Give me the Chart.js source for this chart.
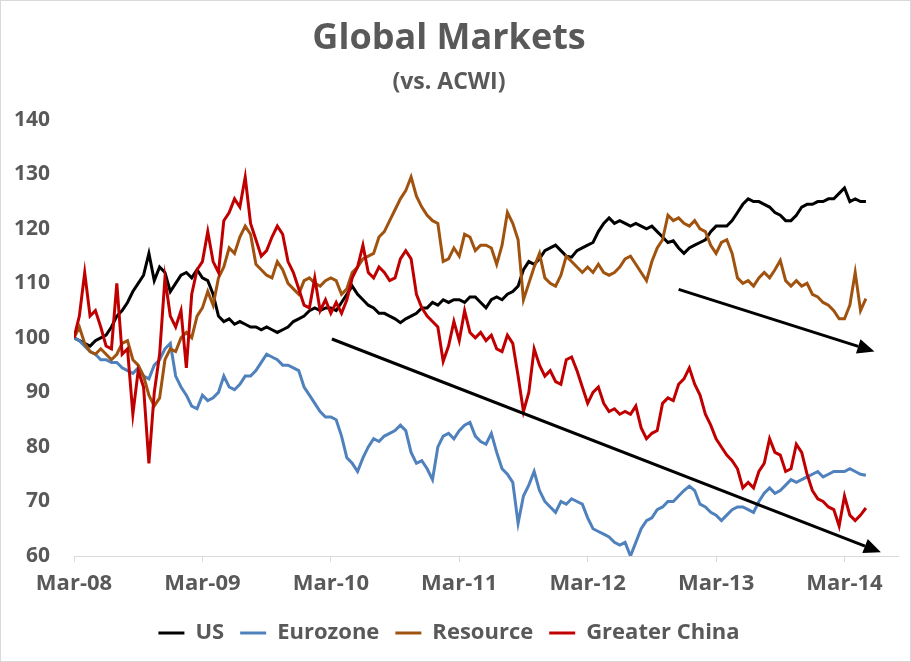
<!DOCTYPE html>
<html>
<head>
<meta charset="utf-8">
<script src="https://cdn.jsdelivr.net/npm/chart.js@4.4.1/dist/chart.umd.min.js"></script>
<style>
  html, body { margin: 0; padding: 0; background: #fff; }
  #wrap { width: 911px; height: 662px; position: relative; }
</style>
</head>
<body>
<div id="wrap"><canvas id="c"></canvas></div>
<script>
// ---- Data (half-month steps starting Mar-2008) ----
const startMonth = 0;      // months since Mar-2008
const stepMonths = 0.5;    // sampling step
const tickLabels = ['Mar-08', 'Mar-09', 'Mar-10', 'Mar-11', 'Mar-12', 'Mar-13', 'Mar-14'];
const seriesNames = ['US', 'Eurozone', 'Resource', 'Greater China'];

const us = [
  100, 99.5, 99, 98.5, 99.5, 100, 100.5, 102, 104, 105,
  106.5, 108.5, 110, 111.5, 115.5, 110.5, 113, 112, 108.5, 110,
  111.5, 112, 111, 112.5, 111, 110.5, 108, 104, 103, 103.5,
  102.5, 103, 102.5, 102, 102, 101.5, 102, 101.5, 101, 101.5,
  102, 103, 103.5, 104, 105, 105.5, 105, 105.5, 105.5, 105,
  106.5, 108, 109.5, 108, 107, 106, 105.5, 104.5, 104.5, 104,
  103.5, 102.8, 103.5, 104, 104.5, 105.5, 105.5, 106.5, 106, 107,
  106.5, 107, 107, 106.5, 107.5, 107.5, 106.5, 105.5, 107, 107.5,
  107, 108, 108.5, 109.5, 112.5, 114, 113.5, 114.5, 116, 116.5,
  117, 116, 115, 114.8, 116, 116.5, 117, 117.5, 119.5, 121,
  122, 121, 121.5, 121, 120.5, 121, 120.5, 120, 120.5, 119.5,
  118.5, 117.5, 117.8, 116.5, 115.5, 116.5, 117, 117.5, 118, 119.5,
  120.5, 120.5, 120.5, 121.5, 123, 124.5, 125.5, 125, 125, 124.5,
  124, 123, 122.5, 121.5, 121.5, 122.5, 124, 124.5, 124.5, 125,
  125, 125.5, 125.5, 126.5, 127.5, 125, 125.5, 125, 125
];
const eurozone = [
  100, 99.5, 98.5, 97.5, 97, 96, 96, 95.5, 95.5, 94.5,
  94, 93.5, 94.5, 93, 92.5, 95, 96, 98, 99, 93,
  91, 89.5, 87.5, 87, 89.5, 88.5, 89, 90, 93, 91,
  90.5, 91.5, 93, 93, 94, 95.5, 97, 96.5, 96, 95,
  95, 94.5, 94, 91, 89.5, 88, 86.5, 85.5, 85.5, 85,
  82, 78, 77, 75.5, 78, 80, 81.5, 81, 82, 82.5,
  83, 84, 83, 79, 77, 77.5, 76, 74, 80, 82,
  82.5, 81.5, 83, 84, 84.5, 82, 81, 80.5, 82.5, 79,
  76, 75, 73.5, 66, 71, 73, 75.5, 72, 70, 69,
  68, 70, 69.5, 70.5, 70, 69.5, 67, 65, 64.5, 64,
  63.5, 62.5, 62, 62.5, 60, 62.5, 65, 66.5, 67, 68.5,
  69, 70, 70, 71, 72, 72.8, 72, 69.5, 69, 68,
  67.5, 66.5, 67.5, 68.5, 69, 69, 68.5, 68, 70, 71.5,
  72.5, 71.5, 72, 73, 74, 73.5, 74, 74.5, 75, 75.5,
  74.5, 75, 75.5, 75.5, 75.5, 76, 75.5, 75, 74.8
];
const resource = [
  100, 102, 99, 97.5, 97, 98, 97, 96, 97, 99,
  99.5, 96, 95, 93, 89.5, 87.5, 89, 96, 98, 97.5,
  100, 101, 100, 104, 105.5, 108.5, 106, 111, 113, 116.5,
  115.5, 118.5, 120.5, 119, 113.5, 112.5, 111.5, 111, 114, 112.5,
  110, 109, 108, 110.5, 111, 110, 109.5, 110.5, 111, 110.5,
  108, 109, 112, 113, 114.5, 115, 115.5, 118.5, 119.5, 121.5,
  123.5, 125.5, 127, 129.5, 126, 124, 122.5, 121.5, 121, 114,
  114.5, 116.5, 115, 119, 118.5, 116, 117, 117, 116.5, 113.5,
  117, 123, 121, 118, 107, 110, 113, 115.5, 111, 110,
  109.5, 111.5, 115, 114, 113, 112, 113, 112, 113.5, 112,
  111.5, 112, 113, 114.5, 115, 113.5, 112, 110.5, 114, 116.5,
  118, 122.5, 121.5, 122, 121, 120.5, 121.5, 120, 119.5, 117,
  115.5, 117.5, 118, 115.5, 111, 110, 110.5, 109.5, 111, 112,
  111, 112.5, 114.2, 110.5, 109.5, 110.5, 109.5, 110, 108, 107.5,
  106.5, 106, 105, 103.5, 103.5, 106, 112, 105, 107.2
];
const greaterChina = [
  100, 104, 112, 104, 105, 102, 98.5, 98, 110, 97,
  98, 86, 94, 91, 77, 90, 97, 111, 104, 102,
  105, 94.5, 108, 112.5, 114, 119.5, 114, 112, 121.5, 123,
  125.5, 124, 129.5, 121, 118, 115, 116, 118.5, 120.5, 119,
  114, 112, 109, 106, 105.5, 111, 105, 107, 104.5, 106.5,
  104.5, 107, 111, 113, 117, 112, 111, 113, 112, 110.5,
  111, 114.5, 116, 114.5, 108, 105.5, 104, 103, 102, 95.7,
  98.5, 103, 99.5, 105, 101, 100, 101, 99.5, 100.5, 98,
  97.5, 100.5, 99, 93, 86.5, 90, 98, 95, 93, 94,
  92, 91.5, 96, 96.5, 94, 91, 88, 90, 91, 88,
  86.5, 87, 86, 86.5, 86, 87.5, 83.5, 81.5, 82.5, 83,
  88, 89, 88.5, 91.5, 92.5, 94.5, 91.5, 89.5, 86, 84,
  81.5, 80, 78.5, 77.5, 76, 72.5, 73.5, 72.5, 75.5, 77,
  81.5, 79, 78.5, 75.5, 76, 80.5, 79, 75, 72, 70.5,
  70, 69, 68.5, 65.5, 71, 67.5, 66.5, 67.5, 68.8
];

// Trend arrows (annotation), in data units: [months since Mar-08, value]
const arrows = [
  { from: [24.1, 99.8], to: [75.4, 60.7] },
  { from: [56.5, 108.9], to: [74.8, 97.5] }
];

const toPoints = (vals) => vals.map((v, i) => ({ x: startMonth + i * stepMonths, y: v }));

const FONT = "'Open Sans', 'DejaVu Sans', sans-serif";
const GREY = '#595959';

const arrowPlugin = {
  id: 'arrows',
  afterDatasetsDraw(chart) {
    const { ctx, scales: { x, y } } = chart;
    ctx.save();
    ctx.strokeStyle = '#000';
    ctx.fillStyle = '#000';
    ctx.lineWidth = 3;
    arrows.forEach(a => {
      const x0 = x.getPixelForValue(a.from[0]), y0 = y.getPixelForValue(a.from[1]);
      const x1 = x.getPixelForValue(a.to[0]), y1 = y.getPixelForValue(a.to[1]);
      const ang = Math.atan2(y1 - y0, x1 - x0);
      const headLen = 17, headHalf = 7.5;
      const bx = x1 - headLen * Math.cos(ang), by = y1 - headLen * Math.sin(ang);
      ctx.beginPath();
      ctx.moveTo(x0, y0);
      ctx.lineTo(bx, by);
      ctx.stroke();
      ctx.beginPath();
      ctx.moveTo(x1, y1);
      ctx.lineTo(bx + headHalf * Math.sin(ang), by - headHalf * Math.cos(ang));
      ctx.lineTo(bx - headHalf * Math.sin(ang), by + headHalf * Math.cos(ang));
      ctx.closePath();
      ctx.fill();
    });
    ctx.restore();
  }
};

const bgPlugin = {
  id: 'bg',
  beforeDraw(chart) {
    const { ctx, width, height } = chart;
    ctx.save();
    ctx.fillStyle = '#fff';
    ctx.fillRect(0, 0, width, height);
    ctx.strokeStyle = '#d9d9d9';
    ctx.lineWidth = 1;
    ctx.strokeRect(0.5, 0.5, width - 1, height - 1);
    ctx.restore();
  }
};

const colors = ['#000000', '#4F81BD', '#A0520F', '#C00000'];
const seriesData = [us, eurozone, resource, greaterChina];
const orders = [3, 2, 1, 0];

new Chart(document.getElementById('c'), {
  type: 'line',
  data: {
    datasets: seriesNames.map((name, k) => ({
      label: name,
      data: toPoints(seriesData[k]),
      borderColor: colors[k],
      backgroundColor: colors[k],
      borderWidth: 3,
      pointRadius: 0,
      tension: 0,
      order: orders[k]
    }))
  },
  options: {
    responsive: true,
    maintainAspectRatio: false,
    animation: false,
    layout: { padding: { left: 0, right: 13, top: 0, bottom: 8 } },
    plugins: {
      title: {
        display: true,
        text: 'Global Markets',
        color: GREY,
        font: { family: FONT, size: 36, weight: 'bold' },
        padding: { top: 17, bottom: 0 }
      },
      subtitle: {
        display: true,
        text: '(vs. ACWI)',
        color: GREY,
        font: { family: FONT, size: 23, weight: 'bold' },
        padding: { top: 8, bottom: 24 }
      },
      legend: {
        position: 'bottom',
        labels: {
          usePointStyle: true,
          pointStyle: 'line',
          pointStyleWidth: 26,
          color: GREY,
          font: { family: FONT, size: 22, weight: 'bold' },
          padding: 16,
          sort: (a, b) => a.datasetIndex - b.datasetIndex
        }
      },
      tooltip: { enabled: false }
    },
    scales: {
      x: {
        type: 'linear',
        min: 0,
        max: 77,
        afterBuildTicks(scale) {
          scale.ticks = tickLabels.map((_, i) => ({ value: i * 12 }));
        },
        afterFit(scale) { scale.height = 50; },
        ticks: {
          autoSkip: false,
          maxRotation: 0,
          color: GREY,
          font: { family: FONT, size: 22, weight: 'bold' },
          padding: 9,
          callback: (v) => tickLabels[Math.round(v / 12)]
        },
        grid: { drawOnChartArea: false, drawTicks: true, tickLength: 6, color: '#d9d9d9' },
        border: { display: true, color: '#d9d9d9', width: 1 }
      },
      y: {
        min: 60,
        max: 140,
        afterFit(scale) { scale.width = 74; },
        ticks: {
          stepSize: 10,
          color: GREY,
          font: { family: FONT, size: 21, weight: 'bold' },
          padding: 24
        },
        grid: { display: false, drawTicks: false },
        border: { display: false }
      }
    }
  },
  plugins: [bgPlugin, arrowPlugin]
});
</script>
</body>
</html>
